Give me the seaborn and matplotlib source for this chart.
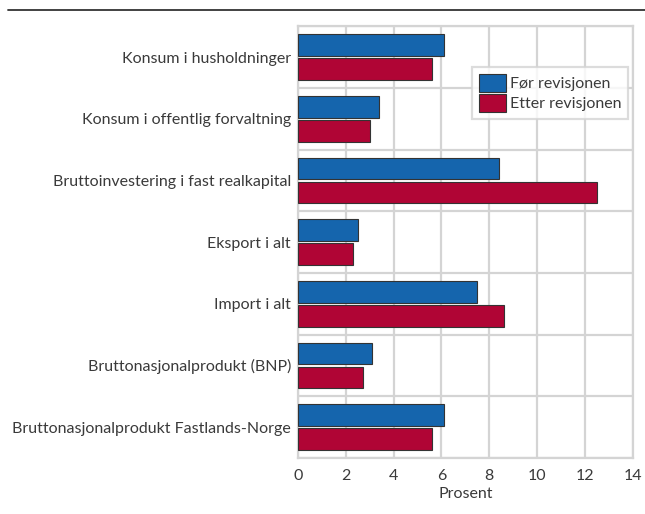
import numpy as np
import pandas as pd
import seaborn as sns
import matplotlib.pyplot as plt
from matplotlib.lines import Line2D

categories = [
    "Konsum i husholdninger",
    "Konsum i offentlig forvaltning",
    "Bruttoinvestering i fast realkapital",
    "Eksport i alt",
    "Import i alt",
    "Bruttonasjonalprodukt (BNP)",
    "Bruttonasjonalprodukt Fastlands-Norge",
]
for_revisjon = [6.1, 3.4, 8.4, 2.5, 7.5, 3.1, 6.1]
etter_revisjon = [5.6, 3.0, 12.5, 2.3, 8.6, 2.7, 5.6]
series = ["Før revisjonen", "Etter revisjonen"]

df = pd.DataFrame({
    "kategori": categories * 2,
    "verdi": for_revisjon + etter_revisjon,
    "serie": [series[0]] * len(categories) + [series[1]] * len(categories),
})

sns.set_style("white")
plt.rcParams['font.family'] = ['Lato', 'DejaVu Sans']
fs = 11.5

fig = plt.figure(figsize=(6.45, 5.14), dpi=100)
ax = fig.add_axes([0.462, 0.109, 0.519, 0.840])

sns.barplot(data=df, x="verdi", y="kategori", hue="serie", orient="h",
            palette=["#1565ad", "#b00535"], saturation=1, width=0.78, gap=0.1,
            edgecolor="#333333", linewidth=0.8, ax=ax, zorder=3)

ax.set_xlim(0, 14)
ax.set_xticks(np.arange(0, 15, 2))
ax.set_ylim(6.5, -0.5)
ax.set_yticks(range(len(categories)))
ax.set_yticks(np.arange(-0.5, 7, 1), minor=True)
ax.grid(axis="x", color="#d4d4d4", linewidth=1.6, zorder=0)
ax.grid(axis="y", which="minor", color="#d4d4d4", linewidth=1.6, zorder=0)
ax.set_axisbelow(True)
for s in ax.spines.values():
    s.set_color("#d4d4d4")
    s.set_linewidth(1.6)
ax.tick_params(axis="both", which="both", length=0, labelsize=fs,
               labelcolor="#3a3a3a")
ax.tick_params(axis="y", pad=5)
ax.tick_params(axis="x", pad=8)
ax.set_ylabel("")
ax.set_xlabel("Prosent", fontsize=fs, color="#3a3a3a", labelpad=3)

leg = ax.legend(loc="upper right", bbox_to_anchor=(0.985, 0.905), fontsize=fs,
                frameon=True, fancybox=False, handlelength=1.7, handleheight=1.4,
                handletextpad=0.25, borderpad=0.4, labelspacing=0.1,
                borderaxespad=0)
leg.get_frame().set_edgecolor("#d4d4d4")
leg.get_frame().set_linewidth(1.6)
for t in leg.get_texts():
    t.set_color("#3a3a3a")

fig.add_artist(Line2D([0.012, 1.0], [0.981, 0.981], color="#333333", linewidth=1.3))

fig.savefig("out.png", dpi=100)
